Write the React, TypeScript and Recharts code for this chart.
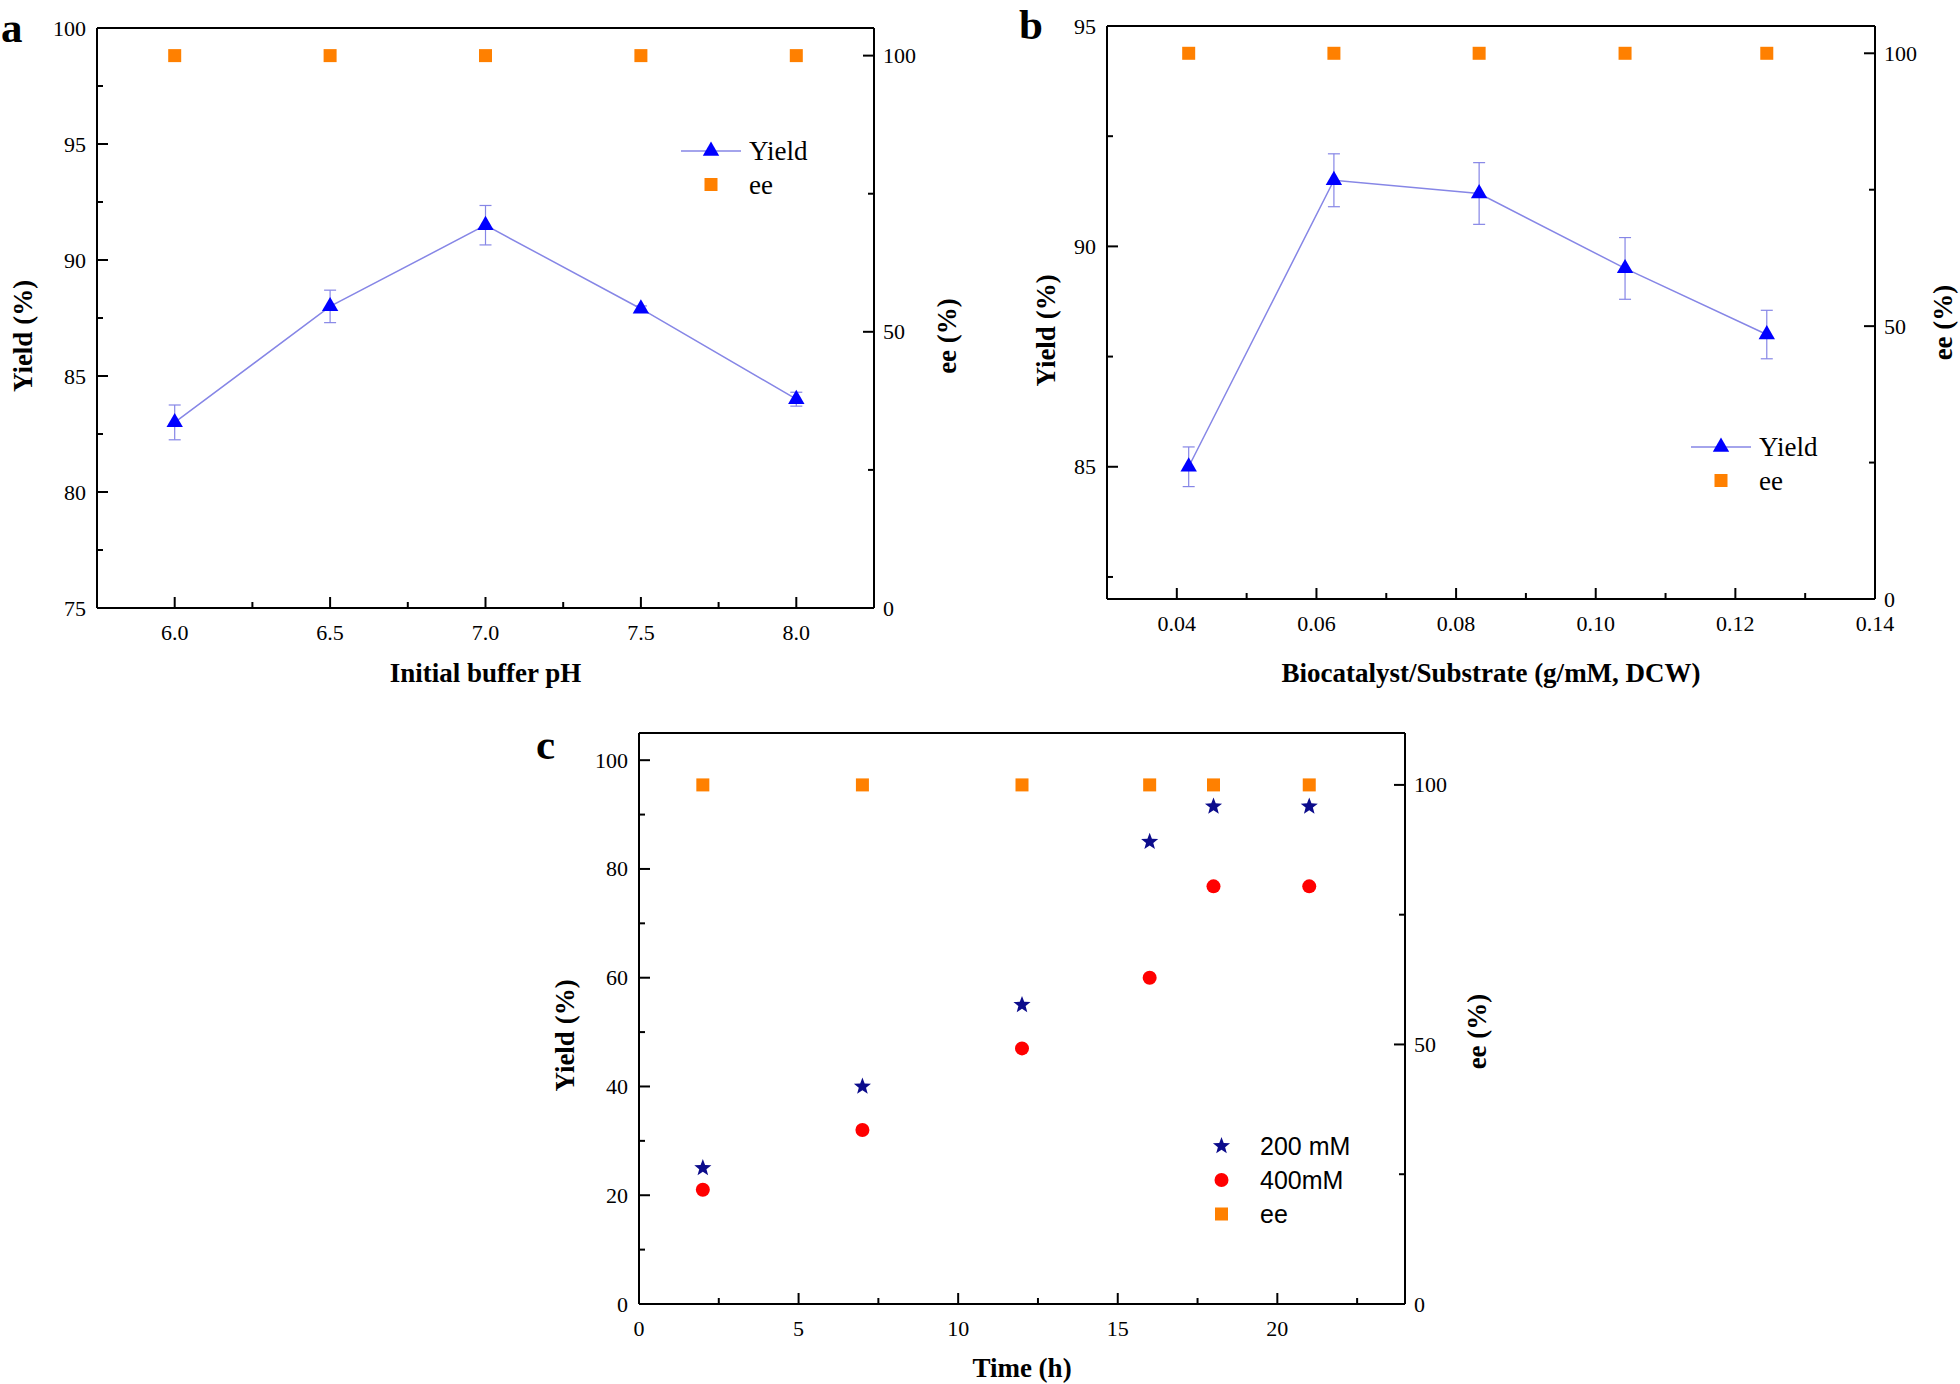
import React from 'react';
import {
    ComposedChart,
    Line,
    XAxis,
    YAxis,
    ErrorBar,
    ReferenceLine,
    Legend,
    Label,
} from 'recharts';

// panel a: initial buffer pH
const phLevels = [6.0, 6.5, 7.0, 7.5, 8.0];
const phYield = [83.0, 88.0, 91.5, 87.9, 84.0];
const phYieldErr = [0.75, 0.7, 0.85, 0.12, 0.3];
const phEe = [100, 100, 100, 100, 100];

// panel b: biocatalyst / substrate ratio
const ratioLevels = [0.0417, 0.0625, 0.0833, 0.1042, 0.1245];
const ratioYield = [85.0, 91.5, 91.2, 89.5, 88.0];
const ratioYieldErr = [0.45, 0.6, 0.7, 0.7, 0.55];
const ratioEe = [100, 100, 100, 100, 100];

// panel c: time course
const hours = [2, 7, 12, 16, 18, 21];
const yield200 = [25, 40, 55, 85, 91.5, 91.5];
const yield400 = [21, 32, 47, 60, 76.8, 76.8];
const timeEe = [100, 100, 100, 100, 100, 100];

// tick values (major + minor)
const phTicks = [6, 6.25, 6.5, 6.75, 7, 7.25, 7.5, 7.75, 8];
const phYieldTicks = [75, 77.5, 80, 82.5, 85, 87.5, 90, 92.5, 95, 97.5, 100];
const ratioTicks = [0.04, 0.05, 0.06, 0.07, 0.08, 0.09, 0.1, 0.11, 0.12, 0.13, 0.14];
const ratioYieldTicks = [82.5, 85, 87.5, 90, 92.5, 95];
const hourTicks = [0, 2.5, 5, 7.5, 10, 12.5, 15, 17.5, 20, 22.5];
const timeYieldTicks = [0, 10, 20, 30, 40, 50, 60, 70, 80, 90, 100];
const eeTicks = [0, 25, 50, 75, 100];

const phData = phLevels.map((x, i) => ({x, yield: phYield[i], err: phYieldErr[i], ee: phEe[i]}));
const ratioData = ratioLevels.map((x, i) => ({x, yield: ratioYield[i], err: ratioYieldErr[i], ee: ratioEe[i]}));
const timeData = hours.map((x, i) => ({x, y200: yield200[i], y400: yield400[i], ee: timeEe[i]}));

const lineColor = '#8686e6';
const triColor = '#0000ff';
const eeColor = '#ff8000';
const starColor = '#0c0c8c';
const circleColor = '#ff0000';

const serif = '"Liberation Serif", "Times New Roman", serif';
const sans = '"Liberation Sans", Arial, sans-serif';
const tickFont = {fontFamily: serif, fontSize: 22, fill: '#000'};
const titleFont = {fontFamily: serif, fontSize: 27, fontWeight: 700, fill: '#000'};

const isMajor = (v: number, step: number) => Math.abs(v / step - Math.round(v / step)) < 1e-6;

// ticks point inward, minor ones are shorter and unlabelled
const makeTick = (side: 'left' | 'right' | 'bottom', step: number, digits: number) => (props: any) => {
    const {x, y, payload} = props;
    const v = payload.value;
    const major = isMajor(v, step);
    const len = major ? 11 : 6;
    const label = v.toFixed(digits);
    if (side === 'left') {
        return (
            <g>
                <line x1={x} x2={x + len} y1={y} y2={y} stroke="#000" strokeWidth={2}/>
                {major && <text x={x - 11} y={y} textAnchor="end" dominantBaseline="central" style={tickFont}>{label}</text>}
            </g>
        );
    }
    if (side === 'right') {
        return (
            <g>
                <line x1={x} x2={x - len} y1={y} y2={y} stroke="#000" strokeWidth={2}/>
                {major && <text x={x + 9} y={y} textAnchor="start" dominantBaseline="central" style={tickFont}>{label}</text>}
            </g>
        );
    }
    return (
        <g>
            <line x1={x} x2={x} y1={y} y2={y - len} stroke="#000" strokeWidth={2}/>
            {major && <text x={x} y={y + 24} textAnchor="middle" dominantBaseline="central" style={tickFont}>{label}</text>}
        </g>
    );
};

const leftTitle = (text: string, dx: number, dy: number) => (props: any) => {
    const {x, y, width, height} = props.viewBox;
    const cx = x + width - dx;
    const cy = y + height / 2 + dy;
    return (
        <text x={cx} y={cy} transform={`rotate(-90, ${cx}, ${cy})`} textAnchor="middle"
              dominantBaseline="central" style={titleFont}>{text}</text>
    );
};

const rightTitle = (text: string, dx: number, dy: number) => (props: any) => {
    const {x, y, height} = props.viewBox;
    const cx = x + dx;
    const cy = y + height / 2 + dy;
    return (
        <text x={cx} y={cy} transform={`rotate(-90, ${cx}, ${cy})`} textAnchor="middle"
              dominantBaseline="central" style={titleFont}>{text}</text>
    );
};

const bottomTitle = (text: string, dy: number) => (props: any) => {
    const {x, y, width} = props.viewBox;
    return <text x={x + width / 2} y={y + dy} textAnchor="middle" style={titleFont}>{text}</text>;
};

const Triangle = ({cx, cy}: { cx: number, cy: number }) => (
    <polygon points={`${cx},${cy - 9.5} ${cx - 8.2},${cy + 4.7} ${cx + 8.2},${cy + 4.7}`} fill={triColor}/>
);
const Square = ({cx, cy}: { cx: number, cy: number }) => (
    <rect x={cx - 6.5} y={cy - 6.5} width={13} height={13} fill={eeColor}/>
);
const Circle = ({cx, cy}: { cx: number, cy: number }) => (
    <circle cx={cx} cy={cy} r={7} fill={circleColor}/>
);
const Star = ({cx, cy}: { cx: number, cy: number }) => {
    const pts = [];
    for (let i = 0; i < 10; i++) {
        const r = i % 2 === 0 ? 9 : 3.8;
        const a = -Math.PI / 2 + i * Math.PI / 5;
        pts.push(`${cx + r * Math.cos(a)},${cy + r * Math.sin(a)}`);
    }
    return <polygon points={pts.join(' ')} fill={starColor}/>;
};

const triDot = (p: any) => <Triangle key={`t${p.index}`} cx={p.cx} cy={p.cy}/>;
const squareDot = (p: any) => <Square key={`s${p.index}`} cx={p.cx} cy={p.cy}/>;
const circleDot = (p: any) => <Circle key={`c${p.index}`} cx={p.cx} cy={p.cy}/>;
const starDot = (p: any) => <Star key={`st${p.index}`} cx={p.cx} cy={p.cy}/>;

const YieldEeLegend = () => (
    <svg width={170} height={80}>
        <line x1={11} x2={71} y1={26} y2={26} stroke={lineColor} strokeWidth={1.5}/>
        <Triangle cx={41} cy={26}/>
        <text x={79} y={26} dominantBaseline="central" style={{fontFamily: serif, fontSize: 27}}>Yield</text>
        <Square cx={41} cy={59.5}/>
        <text x={79} y={59.5} dominantBaseline="central" style={{fontFamily: serif, fontSize: 27}}>ee</text>
    </svg>
);

const TimeLegend = () => (
    <svg width={190} height={120}>
        <Star cx={21.5} cy={26}/>
        <text x={60} y={26} dominantBaseline="central" style={{fontFamily: sans, fontSize: 25}}>200 mM</text>
        <Circle cx={21.5} cy={60}/>
        <text x={60} y={60} dominantBaseline="central" style={{fontFamily: sans, fontSize: 25}}>400mM</text>
        <Square cx={21.5} cy={94}/>
        <text x={60} y={94} dominantBaseline="central" style={{fontFamily: sans, fontSize: 25}}>ee</text>
    </svg>
);

const axisLine = {stroke: '#000', strokeWidth: 2};
const letterFont = {fontFamily: serif, fontSize: 43, fontWeight: 700};

export default function App() {
    return (
        <div style={{position: 'absolute', left: 0, top: 0, width: 1960, height: 1384, background: '#fff'}}>
            <svg width={1960} height={1384} style={{position: 'absolute', left: 0, top: 0}}>
                <text x={1} y={42} style={letterFont}>a</text>
                <text x={1019} y={39} style={letterFont}>b</text>
                <text x={536} y={759} style={letterFont}>c</text>
            </svg>

            <div style={{position: 'absolute', left: 0, top: 0}}>
                <ComposedChart width={990} height={700} data={phData} margin={{top: 28, right: 0, bottom: 0, left: 0}}>
                    <XAxis type="number" dataKey="x" domain={[5.75, 8.25]} ticks={phTicks} interval={0}
                           height={92} axisLine={axisLine} tickLine={false} tickSize={0} tickMargin={0}
                           tick={makeTick('bottom', 0.5, 1)}>
                        <Label content={bottomTitle('Initial buffer pH', 74)}/>
                    </XAxis>
                    <YAxis yAxisId="left" type="number" domain={[75, 100]} ticks={phYieldTicks} interval={0}
                           width={97} axisLine={axisLine} tickLine={false} tickSize={0} tickMargin={0}
                           tick={makeTick('left', 5, 0)}>
                        <Label content={leftTitle('Yield (%)', 74, 18)}/>
                    </YAxis>
                    <YAxis yAxisId="right" orientation="right" type="number" domain={[0, 105]} ticks={eeTicks}
                           interval={0} width={116} axisLine={axisLine} tickLine={false} tickSize={0} tickMargin={0}
                           tick={makeTick('right', 50, 0)}>
                        <Label content={rightTitle('ee (%)', 73, 18)}/>
                    </YAxis>
                    <ReferenceLine yAxisId="left" y={100} stroke="#000" strokeWidth={2} ifOverflow="visible"/>
                    <Line yAxisId="left" dataKey="yield" stroke={lineColor} strokeWidth={1.5} dot={triDot}
                          activeDot={false} isAnimationActive={false}>
                        <ErrorBar dataKey="err" direction="y" width={6} stroke={lineColor} strokeWidth={1.2}/>
                    </Line>
                    <Line yAxisId="right" dataKey="ee" stroke="none" dot={squareDot} activeDot={false}
                          isAnimationActive={false}/>
                    <Legend layout="vertical" align="center" verticalAlign="middle" content={() => <YieldEeLegend/>}
                            wrapperStyle={{left: 670, top: 125, width: 170, height: 80}}/>
                </ComposedChart>
            </div>

            <div style={{position: 'absolute', left: 1000, top: 0}}>
                <ComposedChart width={960} height={700} data={ratioData} margin={{top: 26, right: 0, bottom: 0, left: 0}}>
                    <XAxis type="number" dataKey="x" domain={[0.03, 0.14]} ticks={ratioTicks} interval={0}
                           height={101} axisLine={axisLine} tickLine={false} tickSize={0} tickMargin={0}
                           tick={makeTick('bottom', 0.02, 2)}>
                        <Label content={bottomTitle('Biocatalyst/Substrate (g/mM, DCW)', 83)}/>
                    </XAxis>
                    <YAxis yAxisId="left" type="number" domain={[82, 95]} ticks={ratioYieldTicks} interval={0}
                           width={107} axisLine={axisLine} tickLine={false} tickSize={0} tickMargin={0}
                           tick={makeTick('left', 5, 0)}>
                        <Label content={leftTitle('Yield (%)', 61, 18)}/>
                    </YAxis>
                    <YAxis yAxisId="right" orientation="right" type="number" domain={[0, 105]} ticks={eeTicks}
                           interval={0} width={85} axisLine={axisLine} tickLine={false} tickSize={0} tickMargin={0}
                           tick={makeTick('right', 50, 0)}>
                        <Label content={rightTitle('ee (%)', 68, 10)}/>
                    </YAxis>
                    <ReferenceLine yAxisId="left" y={95} stroke="#000" strokeWidth={2} ifOverflow="visible"/>
                    <Line yAxisId="left" dataKey="yield" stroke={lineColor} strokeWidth={1.5} dot={triDot}
                          activeDot={false} isAnimationActive={false}>
                        <ErrorBar dataKey="err" direction="y" width={6} stroke={lineColor} strokeWidth={1.2}/>
                    </Line>
                    <Line yAxisId="right" dataKey="ee" stroke="none" dot={squareDot} activeDot={false}
                          isAnimationActive={false}/>
                    <Legend layout="vertical" align="center" verticalAlign="middle" content={() => <YieldEeLegend/>}
                            wrapperStyle={{left: 680, top: 421, width: 170, height: 80}}/>
                </ComposedChart>
            </div>

            <div style={{position: 'absolute', left: 520, top: 700}}>
                <ComposedChart width={1000} height={684} data={timeData} margin={{top: 33, right: 0, bottom: 0, left: 0}}>
                    <XAxis type="number" dataKey="x" domain={[0, 24]} ticks={hourTicks} interval={0}
                           height={80} axisLine={axisLine} tickLine={false} tickSize={0} tickMargin={0}
                           tick={makeTick('bottom', 5, 0)}>
                        <Label content={bottomTitle('Time (h)', 73)}/>
                    </XAxis>
                    <YAxis yAxisId="left" type="number" domain={[0, 105]} ticks={timeYieldTicks} interval={0}
                           width={119} axisLine={axisLine} tickLine={false} tickSize={0} tickMargin={0}
                           tick={makeTick('left', 20, 0)}>
                        <Label content={leftTitle('Yield (%)', 74, 17)}/>
                    </YAxis>
                    <YAxis yAxisId="right" orientation="right" type="number" domain={[0, 110]} ticks={eeTicks}
                           interval={0} width={115} axisLine={axisLine} tickLine={false} tickSize={0} tickMargin={0}
                           tick={makeTick('right', 50, 0)}>
                        <Label content={rightTitle('ee (%)', 72, 13)}/>
                    </YAxis>
                    <ReferenceLine yAxisId="left" y={105} stroke="#000" strokeWidth={2} ifOverflow="visible"/>
                    <Line yAxisId="left" dataKey="y200" stroke="none" dot={starDot} activeDot={false}
                          isAnimationActive={false}/>
                    <Line yAxisId="left" dataKey="y400" stroke="none" dot={circleDot} activeDot={false}
                          isAnimationActive={false}/>
                    <Line yAxisId="right" dataKey="ee" stroke="none" dot={squareDot} activeDot={false}
                          isAnimationActive={false}/>
                    <Legend layout="vertical" align="center" verticalAlign="middle" content={() => <TimeLegend/>}
                            wrapperStyle={{left: 680, top: 420, width: 190, height: 120}}/>
                </ComposedChart>
            </div>
        </div>
    );
}
